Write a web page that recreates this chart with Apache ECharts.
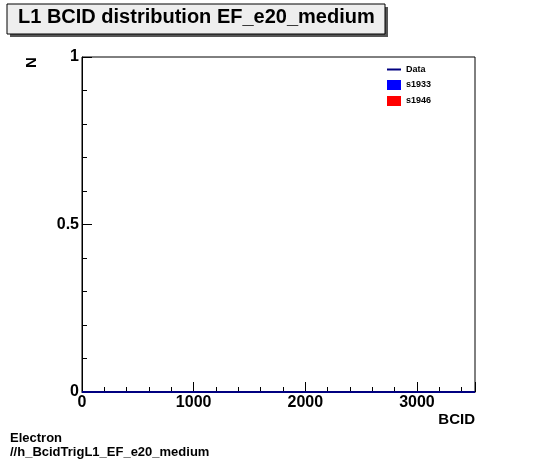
<!DOCTYPE html>
<html><head><meta charset="utf-8">
<script src="https://cdn.jsdelivr.net/npm/echarts@6/dist/echarts.min.js"></script>
<style>html,body{margin:0;padding:0;background:#fff}#c{width:546px;height:462px}</style>
</head><body><div id="c"></div>
<script>
const bcid = [0, 3520];
const dataCounts = [0, 0];
const legendNames = ['Data', 's1933', 's1946'];
const xTicks = [0, 1000, 2000, 3000];
const yTicks = [0, 0.5, 1];

const F = 'Liberation Sans, Arial, sans-serif';
const chart = echarts.init(document.getElementById('c'));
chart.setOption({
  animation: false,
  grid: {left: 82, right: 71, top: 57, bottom: 70, show: true, borderColor: '#000', borderWidth: 1},
  xAxis: {type: 'value', min: 0, max: bcid[1], interval: 1000,
    name: 'BCID', nameLocation: 'end', nameGap: 0,
    nameTextStyle: {fontFamily: F, fontWeight: 'bold', fontSize: 15, color: '#000', align: 'right', verticalAlign: 'top', padding: [20, 0, 0, 0]},
    axisLine: {show: true, onZero: false, lineStyle: {color: '#000'}},
    axisTick: {inside: true, length: 10, lineStyle: {color: '#000'}},
    minorTick: {show: true, splitNumber: 5, length: 5, lineStyle: {color: '#000'}},
    splitLine: {show: false},
    axisLabel: {fontFamily: F, fontWeight: 'bold', fontSize: 16, color: '#000', margin: 3,
      formatter: v => xTicks.includes(v) ? String(v) : ''}
  },
  yAxis: {type: 'value', min: 0, max: 1, interval: 0.5,
    axisLine: {show: true, lineStyle: {color: '#000'}},
    axisTick: {inside: true, length: 10, lineStyle: {color: '#000'}},
    minorTick: {show: true, splitNumber: 5, length: 5, lineStyle: {color: '#000'}},
    splitLine: {show: false},
    axisLabel: {fontFamily: F, fontWeight: 'bold', fontSize: 16, color: '#000', margin: 3,
      formatter: v => yTicks.includes(v) ? String(v) : ''}
  },
  legend: {show: true, right: 110, top: 60, orient: 'vertical', itemWidth: 14, itemHeight: 10, itemGap: 6,
    textStyle: {fontFamily: F, fontWeight: 'bold', fontSize: 9, color: '#000'},
    data: [{name: legendNames[0], icon: 'path://M0,4L14,4L14,6L0,6Z'}, {name: legendNames[1], icon: 'rect'}, {name: legendNames[2], icon: 'rect'}]},
  series: [
    {name: legendNames[0], type: 'line', symbol: 'none', color: '#000080', lineStyle: {width: 2, color: '#000080'},
      data: bcid.map((b, i) => [b, dataCounts[i]])},
    {name: legendNames[1], type: 'bar', color: '#0000ff', data: []},
    {name: legendNames[2], type: 'bar', color: '#ff0000', data: []}
  ],
  graphic: [
    {type: 'rect', shape: {x: 10, y: 7, width: 378, height: 30}, style: {fill: '#555'}},
    {type: 'rect', shape: {x: 7, y: 4, width: 378, height: 30}, style: {fill: '#eeeeee', stroke: '#000', lineWidth: 1}},
    {type: 'text', left: 18, top: 7, style: {text: 'L1 BCID distribution EF_e20_medium', font: 'bold 20px ' + F, fill: '#000'}},
    {type: 'text', x: 24, y: 68, rotation: Math.PI / 2, style: {text: 'N', font: 'bold 15px ' + F, fill: '#000'}},
    {type: 'text', left: 10, top: 431, style: {text: 'Electron\n//h_BcidTrigL1_EF_e20_medium', font: 'bold 13px ' + F, fill: '#000', lineHeight: 14}}
  ]
});
</script></body></html>
